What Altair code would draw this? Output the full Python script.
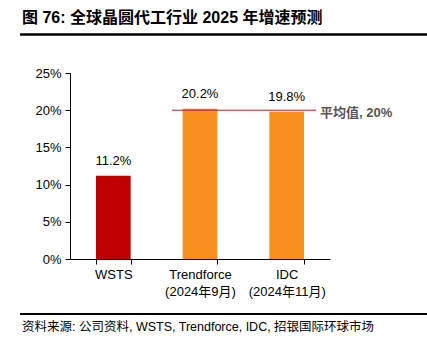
import altair as alt
import pandas as pd

categories = ["WSTS", "Trendforce|(2024年9月)", "IDC|(2024年11月)"]
growth = [0.112, 0.202, 0.198]
colors = ["#C00000", "#F7901E", "#F7901E"]
labels = ["11.2%", "20.2%", "19.8%"]
y_ticks = [0, 0.05, 0.1, 0.15, 0.2, 0.25]
mean_value = 0.20
mean_label = "平均值, 20%"
title_text = "图 76: 全球晶圆代工行业 2025 年增速预测"
source_text = "资料来源: 公司资料, WSTS, Trendforce, IDC, 招银国际环球市场"

FONT = "Liberation Sans, Arial, Noto Sans CJK SC"

df = pd.DataFrame({"cat": categories, "v": growth, "c": colors, "lab": labels})

yscale = alt.Scale(domain=[0, 0.25], nice=False)
xscale = alt.Scale(paddingInner=0.6, paddingOuter=0.3)
xaxis = alt.Axis(title=None, labelAngle=0, tickBand="extent",
                 labelExpr="split(datum.label, '|')",
                 labelFont=FONT, labelFontSize=13, labelColor="black",
                 domainColor="black", tickColor="black", tickSize=5,
                 labelPadding=4, labelLineHeight=17)
yaxis = alt.Axis(title=None, format=".0%", values=y_ticks, labelOverlap=False,
                 grid=False, labelFont=FONT, labelFontSize=13, labelColor="black",
                 domainColor="black", tickColor="black", tickSize=5, labelPadding=4)

base = alt.Chart(df)
bars = base.mark_bar().encode(
    x=alt.X("cat:N", sort=categories, scale=xscale, axis=xaxis),
    y=alt.Y("v:Q", scale=yscale, axis=yaxis),
    color=alt.Color("c:N", scale=None))
vals = base.mark_text(baseline="bottom", dy=-8, font=FONT, fontSize=13, color="black").encode(
    x=alt.X("cat:N", sort=categories, scale=xscale, axis=xaxis),
    y=alt.Y("v:Q", scale=yscale, axis=yaxis), text="lab:N")

mean_df = pd.DataFrame({"m": [mean_value], "t": [mean_label]})
mean_rule = alt.Chart(mean_df).mark_rule(color="#B22222", strokeWidth=1).encode(
    y=alt.Y("m:Q", scale=yscale, axis=yaxis), x=alt.value(102), x2=alt.value(246))
mean_txt = alt.Chart(mean_df).mark_text(align="left", baseline="middle", dx=0, dy=3,
                                        font=FONT, fontSize=13, fontWeight="bold",
                                        color="#555555").encode(
    y=alt.Y("m:Q", scale=yscale, axis=yaxis), x=alt.value(250), text="t:N")

deco = pd.DataFrame({"title": [title_text], "src": [source_text]})
title = alt.Chart(deco).mark_text(align="left", baseline="middle", font=FONT, fontSize=16,
                                  fontWeight="bold", color="black").encode(
    x=alt.value(-48), y=alt.value(-55), text="title:N")
top_line = alt.Chart(deco).mark_rule(color="black", strokeWidth=2.5).encode(
    x=alt.value(-50), x2=alt.value(357), y=alt.value(-38.5))
bot_line = alt.Chart(deco).mark_rule(color="black", strokeWidth=2).encode(
    x=alt.value(-50), x2=alt.value(357), y=alt.value(241))
src = alt.Chart(deco).mark_text(align="left", baseline="middle", font=FONT, fontSize=12.5,
                                color="black").encode(
    x=alt.value(-48), y=alt.value(254), text="src:N")

chart = alt.layer(bars, vals, mean_rule, mean_txt, title, top_line, bot_line, src).properties(
    width=260, height=186,
    autosize=alt.AutoSizeParams(type="none"),
    padding={"left": 70, "top": 73, "right": 97, "bottom": 92},
    background="white",
).configure_view(stroke=None)

chart.save("out.html", embed_options={"renderer": "svg", "actions": False})
